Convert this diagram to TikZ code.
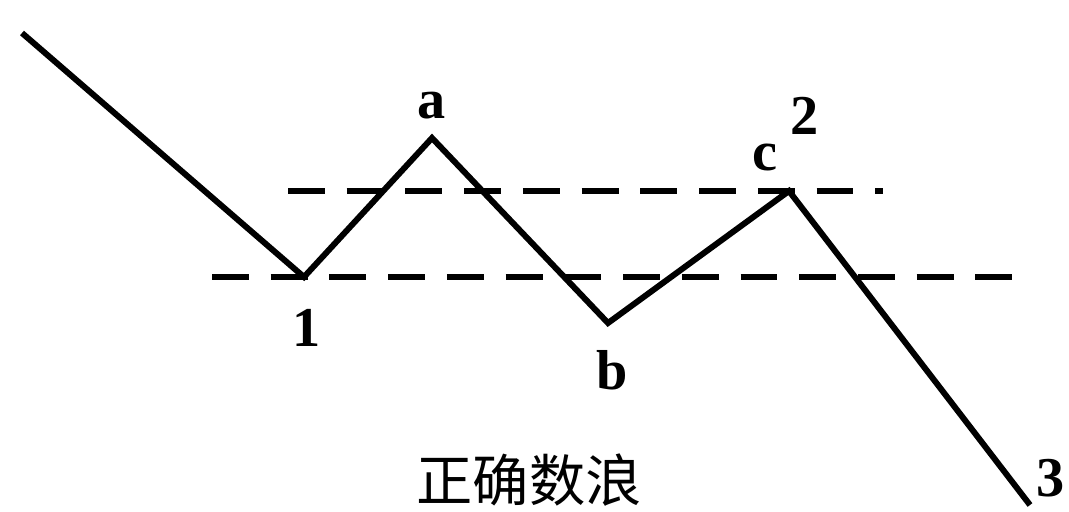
\documentclass[tikz,border=0pt]{standalone}
\usepackage{fontspec}
\setmainfont{Liberation Serif}
\newfontfamily\cjk{Noto Sans CJK SC}
\usepackage{tikz}
\usetikzlibrary{positioning}

\tikzset{
  wave/.style = {line width=1.7pt, line join=miter},
  level/.style = {line width=1.7pt, dash pattern=on 10.5pt off 6.2pt},
  lbl/.style = {font=\fontsize{16}{19}\selectfont\bfseries, inner sep=0pt}
}

\begin{document}
\begin{tikzpicture}[x=0.01cm, y=-0.01cm]
                \useasboundingbox (0,0) rectangle (1069,512);
                % wave points
                \coordinate (s) at (22,33);
                \coordinate (p1) at (304,277);
                \coordinate (pa) at (432,138);
                \coordinate (pb) at (608,323);
                \coordinate (pc) at (789,191);
                \coordinate (p3) at (1030,505);

                % level lines
                \coordinate (u1) at (288,191);
                \coordinate (u2) at (883,191);
                \coordinate (l1) at (212,277);
                \coordinate (l2) at (1017,277);
                \draw[level] (u1) -- (u2);
                \draw[level] (l1) -- (l2);

                \draw[wave] (s) -- (p1) -- (pa) -- (pb) -- (pc) -- (p3);

                % labels
                \node[lbl] (la) at (432,106) {a};
                \node[lbl] (l1t) at (307,328) {1};
                \node[lbl] (lb) at (612,370) {b};
                \node[lbl] (lc) at (765,158) {c};
                \node[lbl] (l2t) at (805,116) {2};
                \node[lbl, anchor=south west] (l3t) at (1036,498) {3};
                \node[font=\cjk\fontsize{16}{19}\selectfont, inner sep=0pt] (title) at (529,480) {正确数浪};
\end{tikzpicture}
\end{document}
